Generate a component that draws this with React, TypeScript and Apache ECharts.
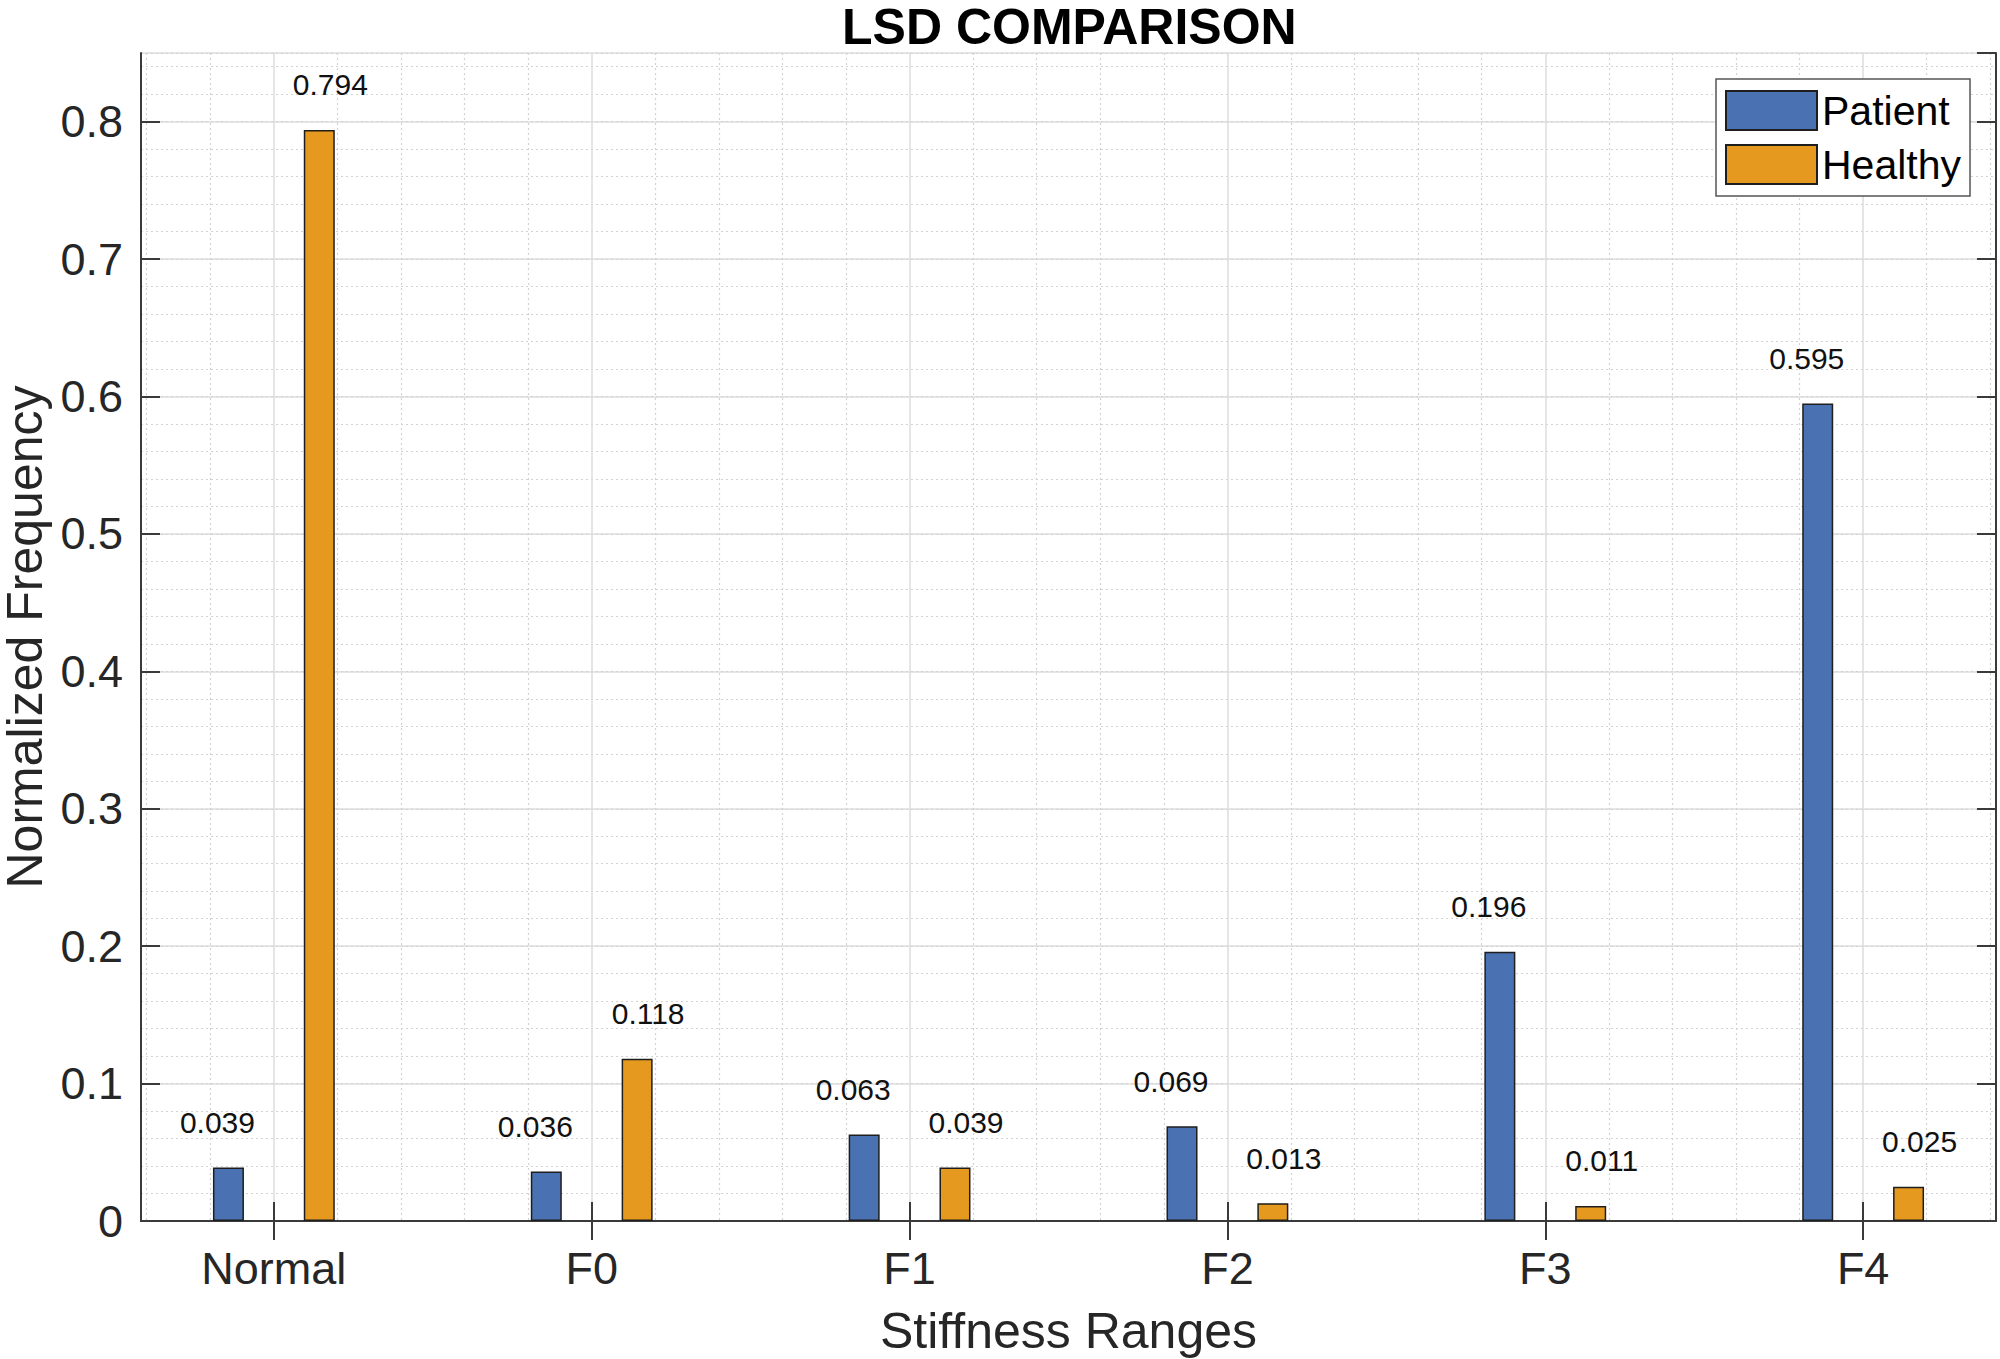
import React, { useEffect, useRef } from "react";
import * as echarts from "echarts";

const categories = ["Normal", "F0", "F1", "F2", "F3", "F4"];
const patientValues = [0.039, 0.036, 0.063, 0.069, 0.196, 0.595];
const healthyValues = [0.794, 0.118, 0.039, 0.013, 0.011, 0.025];
const seriesNames = ["Patient", "Healthy"];
const titleText = "LSD COMPARISON";
const xAxisName = "Stiffness Ranges";
const yAxisName = "Normalized Frequency";

const FONT = "'Liberation Sans', Arial, Helvetica, sans-serif";
const AXIS_COLOR = "#3a3a3a";
const MAJOR_GRID = "#dcdcdc";
const MINOR_GRID = "#d2d2d2";

const X_MIN = 0.582;
const X_MAX = 6.418;
const Y_MIN = 0;
const Y_MAX = 0.85;

export default function App() {
  const ref = useRef<HTMLDivElement>(null);

  useEffect(() => {
    if (!ref.current) return;
    const chart = echarts.init(ref.current, null, { renderer: "svg" });

    const catPositions = categories.map((_, i) => i + 1);
    const minorX: number[] = [];
    for (let k = 3; k <= 32; k++) {
      const v = Math.round(k * 0.2 * 1000) / 1000;
      if (Math.abs(v - Math.round(v)) > 1e-6) minorX.push(v);
    }

    const patientData = patientValues.map((v, i) => [catPositions[i], v]);
    const healthyData = healthyValues.map((v, i) => [catPositions[i], v]);

    const labelCfg = (dx: number) => ({
      show: true,
      position: "top",
      distance: 30,
      offset: [dx, 0],
      fontSize: 30,
      fontFamily: FONT,
      color: "#111",
      formatter: (p: any) => Number(p.value[1]).toFixed(3),
    });

    chart.setOption({
      animation: false,
      backgroundColor: "#ffffff",
      textStyle: { fontFamily: FONT },
      title: {
        text: titleText,
        left: 842,
        top: 2,
        padding: 0,
        textStyle: { fontSize: 50, fontWeight: "bold", color: "#000", fontFamily: FONT },
      },
      legend: {
        data: seriesNames,
        orient: "vertical",
        left: 1716,
        top: 79,
        itemWidth: 91,
        itemHeight: 39,
        itemGap: 13,
        padding: [11, 9, 11, 9],
        borderColor: "#555",
        borderWidth: 1.5,
        backgroundColor: "#ffffff",
        icon: "rect",
        textStyle: { fontSize: 41, color: "#000", fontFamily: FONT },
      },
      grid: {
        left: 141,
        top: 53,
        right: 4,
        bottom: 138,
        containLabel: false,
        outerBoundsMode: "none",
      },
      xAxis: [
        {
          type: "value",
          position: "bottom",
          min: X_MIN,
          max: X_MAX,
          axisLine: { show: true, lineStyle: { color: AXIS_COLOR, width: 2 } },
          axisTick: {
            show: true,
            inside: true,
            length: 19,
            customValues: catPositions,
            lineStyle: { color: AXIS_COLOR, width: 2 },
          },
          axisLabel: {
            show: true,
            customValues: catPositions,
            formatter: (v: number) => categories[Math.round(v) - 1] ?? "",
            fontSize: 45,
            margin: 25,
            color: "#262626",
            fontFamily: FONT,
          },
          splitLine: { show: true, lineStyle: { color: MAJOR_GRID, width: 1.5 } },
          name: xAxisName,
          nameLocation: "middle",
          nameGap: 85,
          nameTextStyle: { fontSize: 50, color: "#262626", fontFamily: FONT },
        },
        {
          type: "value",
          position: "top",
          min: X_MIN,
          max: X_MAX,
          axisLine: { show: true, lineStyle: { color: AXIS_COLOR, width: 2 } },
          axisTick: {
            show: true,
            inside: true,
            length: 19,
            customValues: catPositions,
            lineStyle: { color: AXIS_COLOR, width: 2 },
          },
          axisLabel: { show: false },
          splitLine: { show: false },
        },
        {
          type: "value",
          position: "bottom",
          min: X_MIN,
          max: X_MAX,
          axisLine: { show: false },
          axisTick: { show: false, customValues: minorX },
          axisLabel: { show: false },
          splitLine: { show: true, lineStyle: { color: MINOR_GRID, width: 1.2, type: [2, 3] } },
        },
      ],
      yAxis: [
        {
          type: "value",
          position: "left",
          min: Y_MIN,
          max: Y_MAX,
          interval: 0.1,
          axisLine: { show: true, lineStyle: { color: AXIS_COLOR, width: 2 } },
          axisTick: { show: true, inside: true, length: 19, lineStyle: { color: AXIS_COLOR, width: 2 } },
          axisLabel: {
            show: true,
            showMaxLabel: false,
            fontSize: 45,
            margin: 18,
            color: "#262626",
            fontFamily: FONT,
            padding: [8, 0, 0, 0],
            formatter: (v: number) => (v === 0 ? "0" : v.toFixed(1)),
          },
          splitLine: { show: true, lineStyle: { color: MAJOR_GRID, width: 1.5 } },
          name: yAxisName,
          nameLocation: "middle",
          nameRotate: 90,
          nameGap: 91,
          nameTextStyle: { fontSize: 50, color: "#262626", fontFamily: FONT },
        },
        {
          type: "value",
          position: "right",
          min: Y_MIN,
          max: Y_MAX,
          interval: 0.1,
          axisLine: { show: true, lineStyle: { color: AXIS_COLOR, width: 2 } },
          axisTick: { show: true, inside: true, length: 19, lineStyle: { color: AXIS_COLOR, width: 2 } },
          axisLabel: { show: false },
          splitLine: { show: false },
        },
        {
          type: "value",
          position: "left",
          min: Y_MIN,
          max: Y_MAX,
          interval: 0.02,
          axisLine: { show: false },
          axisTick: { show: false },
          axisLabel: { show: false },
          splitLine: { show: true, lineStyle: { color: MINOR_GRID, width: 1.2, type: [2, 3] } },
        },
      ],
      series: [
        {
          name: seriesNames[0],
          type: "bar",
          xAxisIndex: 0,
          yAxisIndex: 0,
          data: patientData,
          barWidth: 31,
          barGap: "193%",
          itemStyle: { color: "#4a71b1", borderColor: "#1e1e1e", borderWidth: 1.5 },
          label: labelCfg(-11),
          z: 5,
        },
        {
          name: seriesNames[1],
          type: "bar",
          xAxisIndex: 0,
          yAxisIndex: 0,
          data: healthyData,
          barWidth: 31,
          barGap: "193%",
          itemStyle: { color: "#e59a1f", borderColor: "#1e1e1e", borderWidth: 1.5 },
          label: labelCfg(11),
          z: 5,
        },
      ],
    });

    return () => chart.dispose();
  }, []);

  return (
    <div
      ref={ref}
      style={{ position: "absolute", left: 0, top: 0, width: 2000, height: 1359, background: "#fff" }}
    />
  );
}
